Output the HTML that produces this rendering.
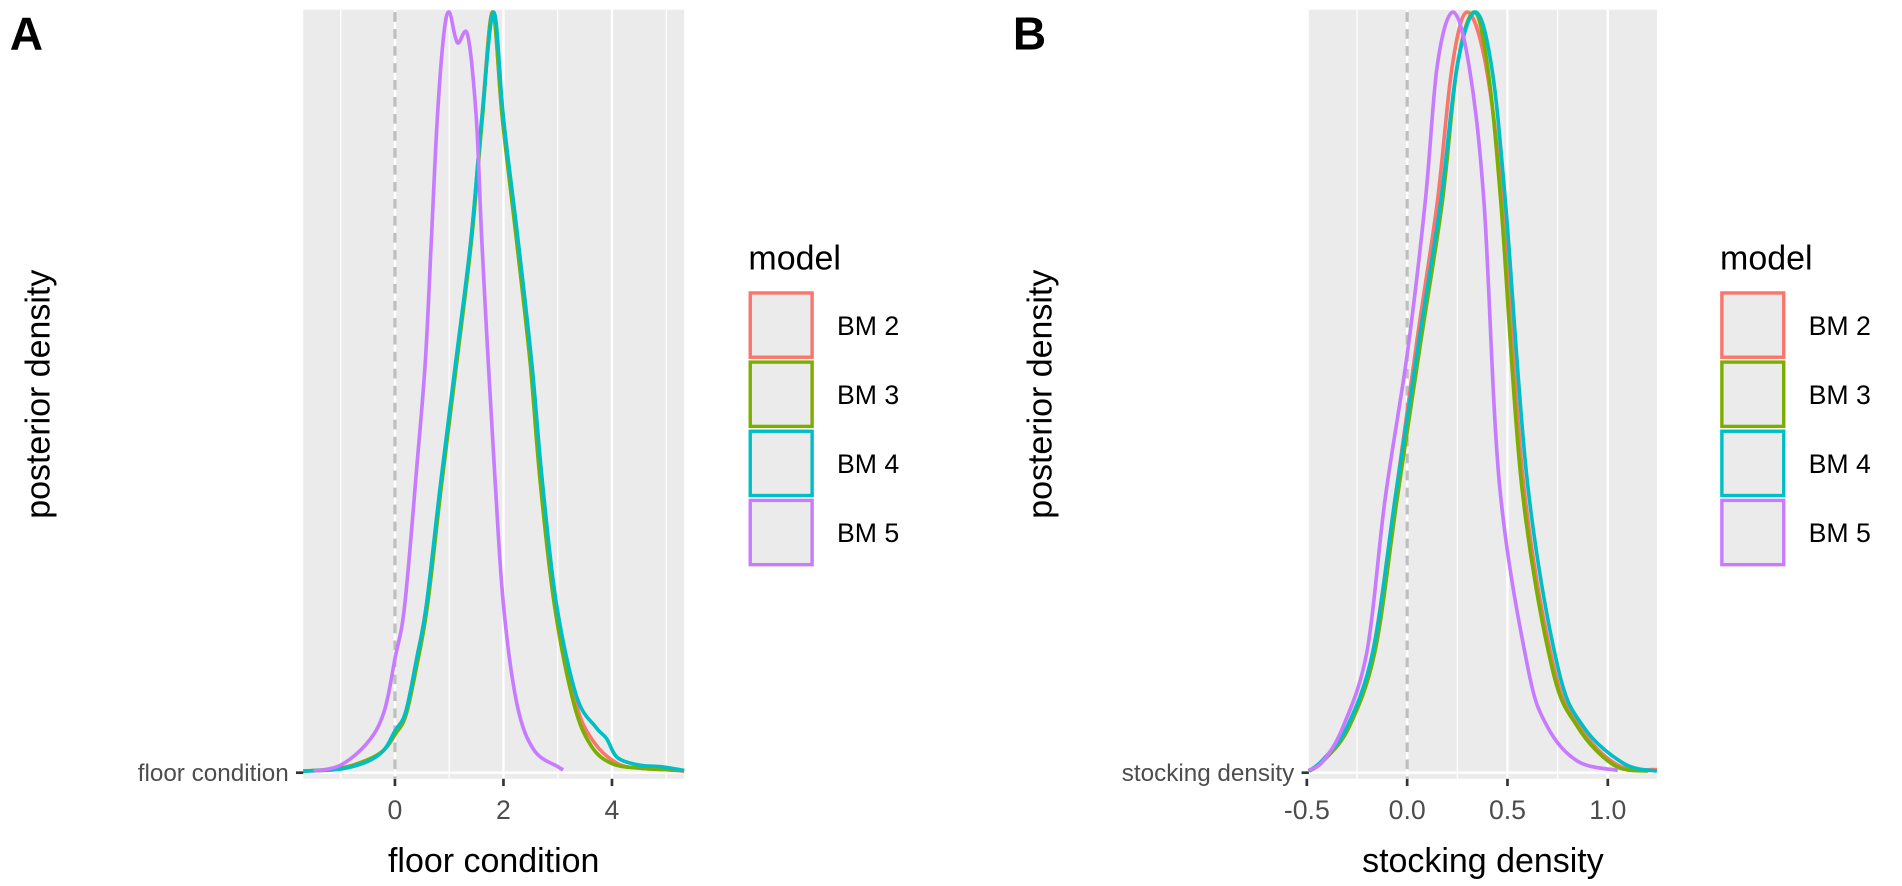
<!DOCTYPE html>
<html><head><meta charset="utf-8"><style>
html,body{margin:0;padding:0;background:#fff;}
svg{display:block;font-family:"Liberation Sans",Arial,sans-serif;}
</style></head><body>
<svg id="chart" width="1902" height="886" viewBox="0 0 1568 730.4" preserveAspectRatio="none">
<text x="8" y="41" font-size="38" font-weight="bold">A</text>
<text x="835" y="41" font-size="38" font-weight="bold">B</text>
<g id="pa"></g>
<g id="pb"></g>
</svg>
<script>
// ---- Panel A data (floor condition) ----
const seriesNames = ["BM 2","BM 3","BM 4","BM 5"];
const seriesColors = ["#F8766D","#7CAE00","#00BFC4","#C77CFF"];
const aTicks = [0,2,4];
const aTickLabels = ["0","2","4"];
const aMinor = [-1,1,3,5];
const aX_BM2 = [-1.69,-1,-0.5,-0.2,0,0.2,0.4,0.58,0.85,1.13,1.4,1.6,1.8,1.98,2.25,2.5,2.7,2.96,3.34,3.67,4.1,4.5,5,5.33];
const aY_BM2 = [0.002,0.005,0.015,0.03,0.05,0.08,0.15,0.22,0.38,0.54,0.70,0.86,1.0,0.86,0.70,0.54,0.38,0.22,0.09,0.04,0.012,0.006,0.004,0.002];
const aX_BM3 = [-1.69,-1,-0.5,-0.2,0,0.2,0.4,0.6,0.86,1.14,1.41,1.61,1.8,1.98,2.24,2.49,2.68,2.94,3.3,3.62,4.0,4.5,5,5.33];
const aY_BM3 = [0.002,0.006,0.017,0.03,0.05,0.075,0.14,0.22,0.38,0.54,0.70,0.86,1.0,0.86,0.70,0.54,0.38,0.22,0.09,0.035,0.012,0.006,0.004,0.003];
const aX_BM4 = [-1.69,-1,-0.5,-0.2,0,0.2,0.4,0.58,0.84,1.12,1.4,1.6,1.82,2.0,2.27,2.52,2.72,2.98,3.35,3.7,3.9,4.1,4.5,4.9,5.33];
const aY_BM4 = [0.002,0.005,0.015,0.03,0.055,0.08,0.15,0.22,0.38,0.54,0.70,0.86,1.0,0.86,0.70,0.54,0.38,0.22,0.1,0.06,0.045,0.02,0.01,0.008,0.003];
const aX_BM5 = [-1.5,-1,-0.5,-0.2,0,0.18,0.4,0.56,0.67,0.78,0.9,1.0,1.15,1.34,1.5,1.6,1.72,1.85,2.0,2.25,2.56,3.0,3.1];
const aY_BM5 = [0.002,0.01,0.04,0.08,0.15,0.22,0.40,0.54,0.70,0.86,0.97,1.0,0.96,0.97,0.86,0.70,0.54,0.38,0.22,0.09,0.03,0.008,0.004];

// ---- Panel B data (stocking density) ----
const bTicks = [-0.5,0,0.5,1.0];
const bTickLabels = ["-0.5","0.0","0.5","1.0"];
const bMinor = [-0.25,0.25,0.75];
const bX_BM2 = [-0.49,-0.42,-0.29,-0.17,-0.06,0.05,0.15,0.225,0.30,0.392,0.475,0.58,0.73,0.86,1.05,1.245];
const bY_BM2 = [0.002,0.015,0.06,0.16,0.36,0.57,0.75,0.93,1.0,0.93,0.75,0.38,0.14,0.06,0.01,0.004];
const bX_BM3 = [-0.49,-0.42,-0.29,-0.16,-0.05,0.07,0.175,0.25,0.333,0.40,0.467,0.57,0.72,0.85,1.03,1.2];
const bY_BM3 = [0.002,0.015,0.06,0.16,0.36,0.57,0.75,0.93,1.0,0.93,0.75,0.38,0.14,0.06,0.01,0.002];
const bX_BM4 = [-0.49,-0.42,-0.30,-0.17,-0.06,0.06,0.167,0.25,0.34,0.42,0.49,0.60,0.75,0.88,1.08,1.245];
const bY_BM4 = [0.002,0.017,0.06,0.16,0.36,0.57,0.75,0.93,1.0,0.93,0.75,0.38,0.14,0.06,0.012,0.002];
const bX_BM5 = [-0.49,-0.42,-0.32,-0.2,-0.11,0.0,0.09,0.15,0.228,0.308,0.383,0.46,0.6,0.7,0.85,1.05];
const bY_BM5 = [0.003,0.015,0.06,0.16,0.36,0.55,0.75,0.93,1.0,0.93,0.75,0.38,0.14,0.06,0.015,0.003];

const NS="http://www.w3.org/2000/svg";
function mk(tag,attrs,parent){const e=document.createElementNS(NS,tag);for(const k in attrs)e.setAttribute(k,attrs[k]);parent.appendChild(e);return e;}
function smooth(P){
  let d='M'+P[0][0].toFixed(1)+','+P[0][1].toFixed(1);
  for(let i=0;i<P.length-1;i++){
    const p0=P[Math.max(0,i-1)],p1=P[i],p2=P[i+1],p3=P[Math.min(P.length-1,i+2)];
    const c1=[p1[0]+(p2[0]-p0[0])/6,p1[1]+(p2[1]-p0[1])/6];
    const c2=[p2[0]-(p3[0]-p1[0])/6,p2[1]-(p3[1]-p1[1])/6];
    d+=' C'+c1[0].toFixed(1)+','+c1[1].toFixed(1)+' '+c2[0].toFixed(1)+','+c2[1].toFixed(1)+' '+p2[0].toFixed(1)+','+p2[1].toFixed(1);
  }
  return d;
}

function panel(g,cfg){
  const L=cfg.left,R=cfg.right,T=10,B=642,base=637;
  const xs=v=>L+(v-cfg.xmin)/(cfg.xmax-cfg.xmin)*(R-L);
  const ys=v=>base-v*(base-T);
  const bg=mk('rect',{x:L,y:T-2,width:R-L,height:B-T+2,fill:'#EBEBEB'},g);
  
  
  mk('line',{x1:L,x2:R,y1:base,y2:base,stroke:'#fff','stroke-width':2},g);
  cfg.minor.forEach(v=>{const l=mk('line',{x1:xs(v),x2:xs(v),y1:T-2,y2:B,stroke:'#fff','stroke-width':1},g);
    
    });
  cfg.ticks.forEach((v,i)=>{
    const l=mk('line',{x1:xs(v),x2:xs(v),y1:T-2,y2:B,stroke:'#fff','stroke-width':2},g);
    
    
    mk('line',{x1:xs(v),x2:xs(v),y1:B,y2:B+6,stroke:'#333','stroke-width':2.2},g);
    const t=mk('text',{x:xs(v),y:675,'font-size':22,fill:'#4D4D4D','text-anchor':'middle'},g);
    t.textContent=cfg.tickLabels[i];
    
    
  });
  const d=mk('line',{x1:xs(0),x2:xs(0),y1:T,y2:B,stroke:'#BEBEBE','stroke-width':2.6,'stroke-dasharray':'8,6'},g);
  
  
  cfg.series.forEach((s,i)=>{
    const pts=s[0].map((x,j)=>[xs(x),ys(s[1][j])]);
    const p=mk('path',{d:smooth(pts),fill:'none',stroke:seriesColors[i],'stroke-width':3,'stroke-linejoin':'round'},g);
    
    
  });
  mk('line',{x1:L-6,x2:L,y1:base,y2:base,stroke:'#333','stroke-width':2.2},g);
  const yt=mk('text',{x:L-12,y:base+7,'font-size':20,fill:'#4D4D4D','text-anchor':'end'},g);
  yt.textContent=cfg.label;
  
  
  const xt=mk('text',{x:(L+R)/2,y:719,'font-size':28,fill:'#000','text-anchor':'middle'},g);
  xt.textContent=cfg.label;
  
  
  const yT=mk('text',{x:0,y:0,'font-size':28,fill:'#000','text-anchor':'middle',transform:'translate('+cfg.ytx+',325) rotate(-90)'},g);
  yT.textContent='posterior density';
  
  
  const lx=cfg.legX;
  const lt=mk('text',{x:lx,y:222,'font-size':28,fill:'#000'},g);
  lt.textContent='model';
  
  
  seriesNames.forEach((n,i)=>{
    const y0=240+i*57;
    const r=mk('rect',{x:lx+1.5,y:y0+1.5,width:51,height:53,fill:'#EBEBEB',stroke:seriesColors[i],'stroke-width':2.8},g);
    
    
    const t=mk('text',{x:lx+73,y:y0+36,'font-size':22,fill:'#000'},g);
    t.textContent=n;
    
    
  });
}
panel(document.getElementById('pa'),{left:250,right:564,xmin:-1.69,xmax:5.33,ticks:aTicks,tickLabels:aTickLabels,minor:aMinor,
  label:'floor condition',ytx:41,legX:617,
  series:[[aX_BM2,aY_BM2],[aX_BM3,aY_BM3],[aX_BM4,aY_BM4],[aX_BM5,aY_BM5]]});
panel(document.getElementById('pb'),{left:1079,right:1366,xmin:-0.49,xmax:1.245,ticks:bTicks,tickLabels:bTickLabels,minor:bMinor,
  label:'stocking density',ytx:867,legX:1418,
  series:[[bX_BM2,bY_BM2],[bX_BM3,bY_BM3],[bX_BM4,bY_BM4],[bX_BM5,bY_BM5]]});
</script>
</body></html>
